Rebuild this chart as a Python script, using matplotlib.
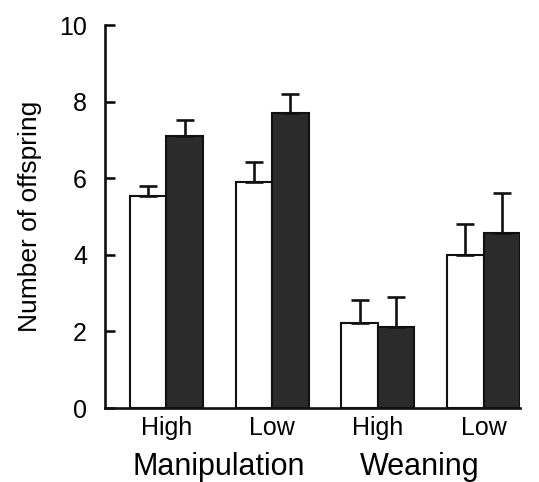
import matplotlib
matplotlib.use('Agg')
import matplotlib.pyplot as plt
import numpy as np

plt.rcParams['font.family'] = ['Liberation Sans', 'DejaVu Sans']

levels = ['High', 'Low', 'High', 'Low']
groups = ['Manipulation', 'Weaning']
white_mean = [5.53, 5.90, 2.22, 4.00]
white_se = [0.27, 0.52, 0.60, 0.80]
dark_mean = [7.10, 7.70, 2.11, 4.57]
dark_se = [0.42, 0.50, 0.79, 1.04]

centers = np.arange(len(levels)) * 2.9
w = 1.0

fig = plt.figure(figsize=(5.39, 4.82), dpi=100)
ax = fig.add_axes([0.1948, 0.1535, 0.770, 0.7946])

err_kw = dict(ecolor='#111111', elinewidth=1.9, capsize=6.5, capthick=1.9)
ax.bar(centers - w / 2, white_mean, w, color='white', edgecolor='#111111', linewidth=1.5,
       yerr=[np.zeros(4), white_se], error_kw=err_kw, zorder=2)
ax.bar(centers + w / 2, dark_mean, w, color='#2b2b2b', edgecolor='#111111', linewidth=1.5,
       yerr=[np.zeros(4), dark_se], error_kw=err_kw, zorder=2)

ax.set_xlim(centers[0] - w - 0.68, centers[-1] + w)
ax.set_ylim(0, 10)
ax.set_yticks([0, 2, 4, 6, 8, 10])
ax.set_xticks(centers)
ax.set_xticklabels(levels)
ax.tick_params(axis='y', direction='in', length=7, width=1.8, labelsize=18, pad=13)
ax.tick_params(axis='x', length=0, labelsize=18, pad=6)
for s in ['top', 'right']:
    ax.spines[s].set_visible(False)
for s in ['left', 'bottom']:
    ax.spines[s].set_linewidth(1.9)
    ax.spines[s].set_color('#111111')
ax.set_ylabel('Number of offspring', fontsize=19, labelpad=12)

ax.text((centers[0] + centers[1]) / 2, -1.55, groups[0], ha='center', va='center',
        fontsize=22, transform=ax.transData)
ax.text((centers[2] + centers[3]) / 2 - 0.3, -1.55, groups[1], ha='center', va='center',
        fontsize=22, transform=ax.transData)

fig.savefig('out.png', dpi=100)
